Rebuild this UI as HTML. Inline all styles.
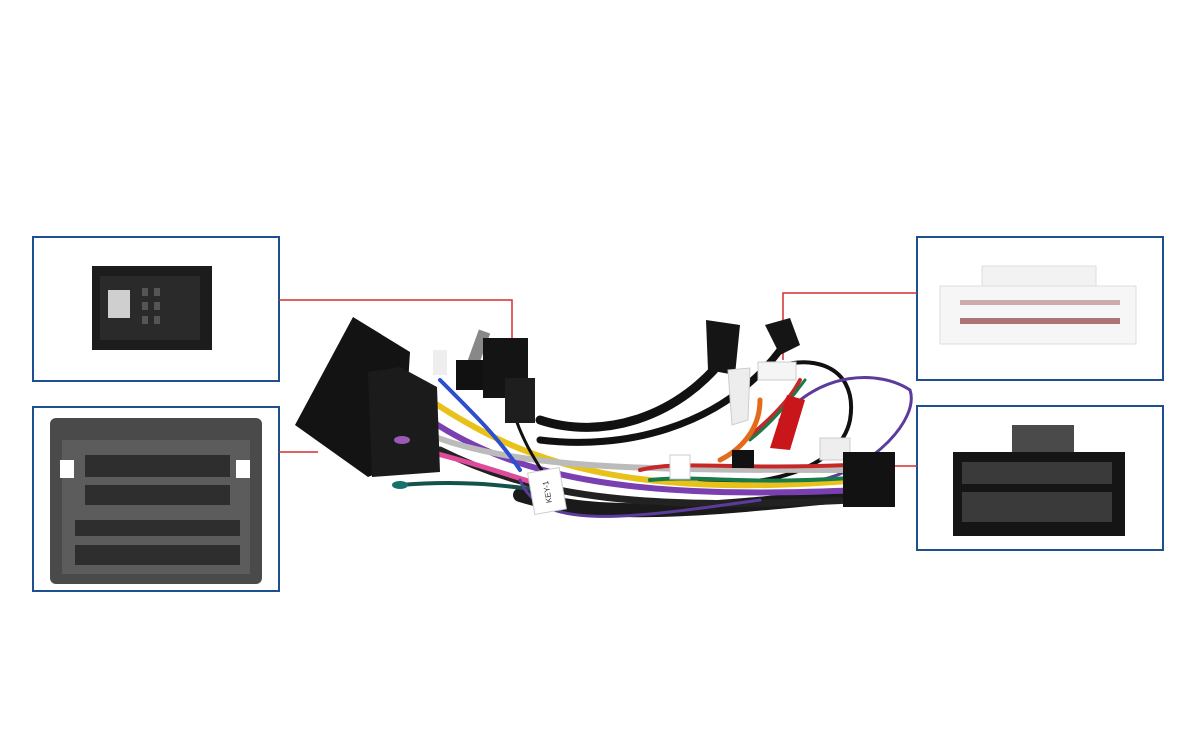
<!DOCTYPE html>
<html><head><meta charset="utf-8"><style>
html,body{margin:0;padding:0;background:#fff;}
svg{display:block}
</style></head><body>
<svg width="1200" height="750" viewBox="0 0 1200 750" xmlns="http://www.w3.org/2000/svg">
<rect width="1200" height="750" fill="#fff"/>
<g fill="none" stroke="#1d4f91" stroke-width="2">
<rect x="33" y="237" width="246" height="144"/>
<rect x="33" y="407" width="246" height="184"/>
<rect x="917" y="237" width="246" height="143"/>
<rect x="917" y="406" width="246" height="144"/>
</g>
<g fill="none" stroke="#d32f2f" stroke-width="1.5">
<polyline points="279,300 512,300 512,338"/>
<polyline points="279,452 318,452"/>
<polyline points="917,293 783,293 783,360"/>
<polyline points="917,466 895,466"/>
</g>
<!-- top-left connector -->
<path d="M92,266 L212,266 L212,350 L92,350 Z" fill="#1c1c1c"/>
<rect x="100" y="276" width="100" height="64" fill="#2a2a2a"/>
<rect x="108" y="290" width="22" height="28" fill="#cfcfcf"/>
<g fill="#555"><rect x="142" y="288" width="6" height="8"/><rect x="154" y="288" width="6" height="8"/><rect x="142" y="302" width="6" height="8"/><rect x="154" y="302" width="6" height="8"/><rect x="142" y="316" width="6" height="8"/><rect x="154" y="316" width="6" height="8"/></g>
<!-- bottom-left connector -->
<rect x="50" y="418" width="212" height="166" rx="6" fill="#4a4a4a"/>
<rect x="62" y="440" width="188" height="134" fill="#5c5c5c"/>
<rect x="60" y="460" width="14" height="18" fill="#fff"/>
<rect x="236" y="460" width="14" height="18" fill="#fff"/>
<g fill="#2e2e2e">
<rect x="85" y="455" width="145" height="22"/>
<rect x="85" y="485" width="145" height="20"/>
<rect x="75" y="520" width="165" height="16"/>
<rect x="75" y="545" width="165" height="20"/>
</g>
<!-- top-right white connector -->
<rect x="982" y="266" width="114" height="22" fill="#f2f2f2" stroke="#ddd"/>
<rect x="940" y="286" width="196" height="58" fill="#f6f6f6" stroke="#ddd"/>
<g fill="#7a1f1f">
<rect x="960" y="300" width="160" height="5" opacity="0.35"/>
<rect x="960" y="318" width="160" height="6" opacity="0.6"/>
</g>
<!-- bottom-right black connector -->
<rect x="1012" y="425" width="62" height="28" fill="#4a4a4a"/>
<rect x="953" y="452" width="172" height="84" fill="#151515"/>
<g fill="#3a3a3a">
<rect x="962" y="462" width="150" height="22"/>
<rect x="962" y="492" width="150" height="30"/>
</g>
<!-- wires -->
<g fill="none" stroke-linecap="round">
<path d="M540,420 C600,440 680,420 730,350" stroke="#111" stroke-width="9"/>
<path d="M540,440 C620,450 720,430 780,350" stroke="#111" stroke-width="7"/>
<path d="M760,375 C800,350 860,360 850,420 C840,470 760,490 700,480" stroke="#111" stroke-width="4"/>
<path d="M780,420 C820,370 880,370 910,390 C920,420 870,470 820,480" stroke="#5b3b9c" stroke-width="3"/>
<path d="M520,495 C600,520 700,510 850,495" stroke="#1a1a1a" stroke-width="14"/>
<path d="M430,400 C520,460 620,500 860,480" stroke="#e8c21a" stroke-width="6"/>
<path d="M430,420 C520,480 640,500 860,490" stroke="#7a3fb0" stroke-width="6"/>
<path d="M430,435 C520,470 650,470 860,470" stroke="#bbb" stroke-width="6"/>
<path d="M440,450 C540,500 650,510 850,500" stroke="#222" stroke-width="7"/>
<path d="M400,445 C470,460 520,480 560,490" stroke="#e04a9a" stroke-width="5"/>
<path d="M400,485 C460,480 500,485 540,490" stroke="#14524a" stroke-width="4"/>
<path d="M520,480 C540,530 620,520 760,500" stroke="#5b3b9c" stroke-width="3"/>
<path d="M640,470 C680,460 720,470 850,465" stroke="#c62828" stroke-width="4"/>
<path d="M650,480 C700,475 740,485 850,478" stroke="#1b7a4a" stroke-width="4"/>
<path d="M745,440 C770,420 790,400 800,380" stroke="#c62828" stroke-width="4"/>
<path d="M750,440 C775,420 790,400 805,380" stroke="#1b7a4a" stroke-width="3"/>
<path d="M760,400 C760,430 740,450 720,460" stroke="#e36b1a" stroke-width="5"/>
<path d="M440,380 C480,420 500,440 520,470" stroke="#2d4fcf" stroke-width="4"/>
<path d="M510,400 C520,440 540,470 560,495" stroke="#111" stroke-width="3"/>
</g>
<!-- main black box -->
<path d="M295,425 L353,317 L410,352 L403,463 L368,477 Z" fill="#131313"/>
<path d="M368,372 L400,367 L437,387 L440,472 L372,477 Z" fill="#1b1b1b"/>
<rect x="470" y="330" width="12" height="50" fill="#888" transform="rotate(20 476 355)"/>
<rect x="456" y="360" width="28" height="30" fill="#111"/>
<rect x="483" y="338" width="45" height="60" fill="#141414"/>
<rect x="505" y="378" width="30" height="45" fill="#1e1e1e"/>
<rect x="433" y="350" width="14" height="25" fill="#eee"/>
<path d="M706,320 L740,325 L735,375 L708,370 Z" fill="#151515"/>
<path d="M765,325 L790,318 L800,345 L780,355 Z" fill="#151515"/>
<path d="M728,370 L750,368 L748,420 L732,425 Z" fill="#ededed" stroke="#ccc"/>
<path d="M787,395 L805,400 L790,450 L770,448 Z" fill="#c8161b"/>
<rect x="758" y="362" width="38" height="18" fill="#f5f5f5" stroke="#ccc"/>
<rect x="820" y="438" width="30" height="22" fill="#eee" stroke="#ccc"/>
<rect x="732" y="450" width="22" height="18" fill="#111"/>
<rect x="843" y="452" width="52" height="55" fill="#121212"/>
<rect x="531" y="470" width="32" height="42" fill="#fff" stroke="#ccc" transform="rotate(-10 547 491)"/>
<text x="547" y="495" font-family="Liberation Sans, sans-serif" font-size="8" fill="#333" transform="rotate(-100 547 492)" text-anchor="middle">KEY-1</text>
<rect x="670" y="455" width="20" height="24" fill="#fff" stroke="#ccc"/>
<ellipse cx="402" cy="440" rx="8" ry="4" fill="#9b59b6"/>
<ellipse cx="400" cy="485" rx="8" ry="4" fill="#14726a"/>
</svg>
</body></html>
